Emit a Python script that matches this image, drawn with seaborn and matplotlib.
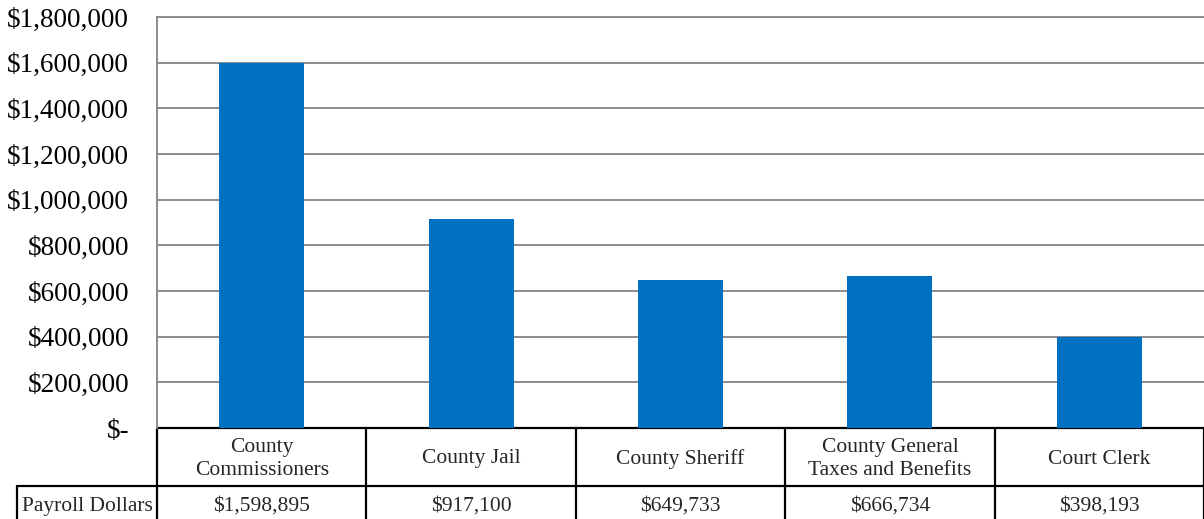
import matplotlib
matplotlib.use("Agg")
import matplotlib.pyplot as plt
import matplotlib.transforms as mtransforms
import pandas as pd
import seaborn as sns

# chart data
departments = ["County\nCommissioners", "County Jail", "County Sheriff",
               "County General\nTaxes and Benefits", "Court Clerk"]
payroll = [1598895, 917100, 649733, 666734, 398193]
row_label = "Payroll Dollars"
y_ticks = [0, 200000, 400000, 600000, 800000, 1000000, 1200000, 1400000, 1600000, 1800000]


def money(v):
    return "$-" if v == 0 else f"${v:,.0f}"


sns.set_style("white")
plt.rcParams["font.family"] = ["Liberation Serif", "DejaVu Serif"]

W, H = 1204, 519
fig = plt.figure(figsize=(W / 100, H / 100), dpi=100)
ax = fig.add_axes([157 / W, 91 / H, 1047 / W, 411 / H])

df = pd.DataFrame({"dept": departments, "payroll": payroll})
sns.barplot(data=df, x="dept", y="payroll", color="#0070C0", saturation=1,
            width=0.405, linewidth=0, ax=ax, zorder=3)

ax.set_xlim(-0.5, len(departments) - 0.5)
ax.set_ylim(0, y_ticks[-1])
ax.set_yticks(y_ticks)
ax.set_yticklabels([money(v) for v in y_ticks])
ax.tick_params(axis="y", length=0, pad=20, labelsize=19.5, colors="black")
ax.set_xticks([])
ax.set_xlabel("")
ax.set_ylabel("")
ax.yaxis.grid(True, color="#8c8c8c", lw=1.4)
ax.set_axisbelow(True)
for s in ["left", "top"]:
    ax.spines[s].set_color("#8c8c8c")
    ax.spines[s].set_linewidth(1.4)
ax.spines["right"].set_visible(False)
ax.spines["bottom"].set_visible(False)

# data table under the axis
tr = mtransforms.blended_transform_factory(ax.transData, ax.transAxes)
ax_h = 411
row1 = -58 / ax_h
row2 = -92 / ax_h
label_left = -0.5 - 140 / (1047 / len(departments))
lk = dict(color="black", lw=1.6, transform=tr, clip_on=False)

ax.plot([-0.5, len(departments) - 0.5], [0, 0], **lk)
ax.plot([label_left, len(departments) - 0.5], [row1, row1], **lk)
for i in range(len(departments) + 1):
    ax.plot([i - 0.5, i - 0.5], [0, row2], **lk)
ax.plot([label_left, label_left], [row1, row2], **lk)

head_y = -31 / ax_h
val_y = -78 / ax_h
for i, (d, v) in enumerate(zip(departments, payroll)):
    ax.text(i, head_y, d, transform=tr, ha="center", va="center",
            fontsize=15.5, linespacing=1.25)
    ax.text(i, val_y, money(v), transform=tr, ha="center",
            va="center", fontsize=15.5)
ax.text((label_left - 0.5) / 2, val_y, row_label, transform=tr,
        ha="center", va="center", fontsize=15.5)

fig.savefig("out.png", dpi=100)
